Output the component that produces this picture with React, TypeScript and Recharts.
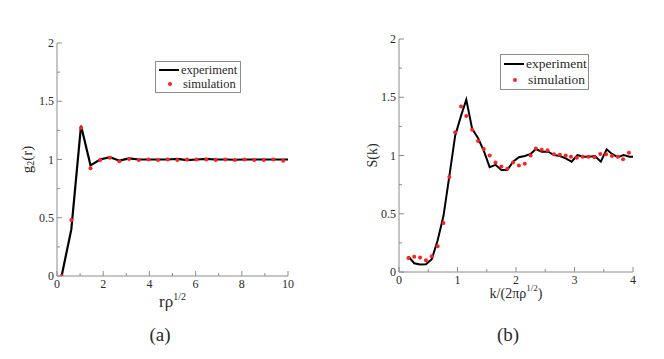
import { ComposedChart, Legend, Line, Scatter, XAxis, YAxis } from 'recharts';

const FONT = '"Liberation Serif", "Times New Roman", Tinos, "DejaVu Serif", "Noto Serif", serif';
const FRAME = '#8c8c8c';
const TEXT = '#2a2a2a';
const RED = '#ff2020';

// panel (a): pair correlation g2(r)
const expRA = [0.2, 0.62, 1.04, 1.45, 1.87, 2.29, 2.7, 3.12, 3.54, 3.96, 4.37, 4.79, 5.21, 5.63, 6.04, 6.46, 6.87, 7.29, 7.7, 8.12, 8.54, 8.95, 9.37, 9.79, 10];
const expGA = [0, 0.4, 1.29, 0.95, 1.0, 1.02, 0.99, 1.01, 1.0, 1.0, 1.0, 1.0, 1.005, 0.995, 1.0, 1.005, 1.0, 1.0, 0.998, 1.0, 1.0, 1.0, 1.0, 1.0, 1.0];
const simRA = [0.2, 0.62, 1.04, 1.45, 1.87, 2.29, 2.7, 3.12, 3.54, 3.96, 4.37, 4.79, 5.21, 5.63, 6.04, 6.46, 6.87, 7.29, 7.7, 8.12, 8.54, 8.95, 9.37, 9.79];
const simGA = [0, 0.48, 1.27, 0.925, 0.995, 1.015, 0.985, 1.005, 0.995, 1.0, 0.995, 1.0, 0.995, 1.0, 1.0, 1.0, 0.995, 1.0, 0.995, 1.0, 0.995, 0.995, 1.0, 0.99];
const xTicksA = [0, 1, 2, 3, 4, 5, 6, 7, 8, 9, 10];
const xMajorA = [0, 2, 4, 6, 8, 10];

// panel (b): structure factor S(k)
const expKB = [0.16, 0.26, 0.36, 0.46, 0.56, 0.66, 0.76, 0.86, 0.96, 1.06, 1.15, 1.25, 1.35, 1.45, 1.55, 1.65, 1.75, 1.85, 1.95, 2.05, 2.15, 2.25, 2.34, 2.44, 2.55, 2.65, 2.75, 2.85, 2.95, 3.05, 3.15, 3.25, 3.35, 3.45, 3.55, 3.64, 3.74, 3.84, 3.94, 4.0];
const expSB = [0.135, 0.075, 0.065, 0.066, 0.11, 0.27, 0.48, 0.82, 1.17, 1.34, 1.48, 1.23, 1.15, 1.04, 0.9, 0.92, 0.875, 0.875, 0.947, 0.985, 0.996, 1.013, 1.056, 1.033, 1.033, 1.004, 0.996, 0.976, 0.947, 1.004, 0.99, 0.99, 0.996, 0.947, 1.053, 1.013, 0.985, 1.004, 0.99, 0.99];
const simKB = [0.16, 0.26, 0.36, 0.46, 0.56, 0.66, 0.76, 0.86, 0.96, 1.06, 1.15, 1.25, 1.35, 1.45, 1.55, 1.65, 1.75, 1.85, 1.95, 2.05, 2.15, 2.25, 2.34, 2.44, 2.54, 2.65, 2.75, 2.85, 2.94, 3.04, 3.14, 3.24, 3.34, 3.44, 3.54, 3.64, 3.74, 3.83, 3.93];
const simSB = [0.12, 0.13, 0.125, 0.1, 0.135, 0.22, 0.42, 0.815, 1.2, 1.42, 1.34, 1.22, 1.125, 1.056, 1.0, 0.94, 0.905, 0.887, 0.94, 0.915, 0.93, 1.0, 1.06, 1.05, 1.045, 1.01, 1.007, 1.0, 0.99, 0.98, 0.99, 0.99, 0.985, 1.013, 1.01, 0.996, 0.99, 0.967, 1.024];
const xTicksB = [0, 0.5, 1, 1.5, 2, 2.5, 3, 3.5, 4];
const xMajorB = [0, 1, 2, 3, 4];

const yTicks = [0, 0.25, 0.5, 0.75, 1, 1.25, 1.5, 1.75, 2];
const yMajor = [0, 0.5, 1, 1.5, 2];

const toPoints = (xs: number[], ys: number[]) => xs.map((x, i) => ({ x, y: ys[i] }));

const isMajor = (v: number, majors: number[]) => majors.some((m) => Math.abs(m - v) < 1e-9);
const tickLen = (major: boolean) => (major ? 5 : 3);

function bottomTick(majors: number[]) {
  return (props: any) => {
    const { x, y, payload } = props;
    const major = isMajor(payload.value, majors);
    return (
      <g>
        <line x1={x} x2={x} y1={y} y2={y - tickLen(major)} stroke={FRAME} />
        {major && (
          <text x={x} y={y + 12} textAnchor="middle" fontSize={12} fontFamily={FONT} fill={TEXT}>
            {payload.value}
          </text>
        )}
      </g>
    );
  };
}

function topTick(majors: number[]) {
  return (props: any) => {
    const { x, y, payload } = props;
    return <line x1={x} x2={x} y1={y} y2={y + tickLen(isMajor(payload.value, majors))} stroke={FRAME} />;
  };
}

function leftTick(props: any) {
  const { x, y, payload } = props;
  const major = isMajor(payload.value, yMajor);
  return (
    <g>
      <line x1={x} x2={x + tickLen(major)} y1={y} y2={y} stroke={FRAME} />
      {major && (
        <text x={x - 3} y={y + 4} textAnchor="end" fontSize={12} fontFamily={FONT} fill={TEXT}>
          {payload.value}
        </text>
      )}
    </g>
  );
}

function rightTick(props: any) {
  const { x, y, payload } = props;
  return <line x1={x} x2={x - tickLen(isMajor(payload.value, yMajor))} y1={y} y2={y} stroke={FRAME} />;
}

function LegendBox({ fontSize, rowHeight }: { fontSize: number; rowHeight: number }) {
  const row = { display: 'flex', alignItems: 'center', height: rowHeight, whiteSpace: 'nowrap' as const };
  const sample = { width: 22, display: 'flex', justifyContent: 'center', marginRight: 2 };
  return (
    <div
      style={{
        border: `1px solid ${FRAME}`,
        background: '#fff',
        padding: '1px 3px',
        fontFamily: FONT,
        fontSize,
        color: TEXT,
        boxSizing: 'border-box',
      }}
    >
      <div style={row}>
        <span style={sample}>
          <span style={{ width: 20, height: 2, background: '#000' }} />
        </span>
        experiment
      </div>
      <div style={row}>
        <span style={sample}>
          <span style={{ width: 4, height: 4, borderRadius: 2, background: RED }} />
        </span>
        simulation
      </div>
    </div>
  );
}

interface PanelProps {
  width: number;
  margin: { top: number; right: number; bottom: number; left: number };
  domainX: [number, number];
  xTicks: number[];
  xMajor: number[];
  exp: { x: number; y: number }[];
  sim: { x: number; y: number }[];
  legend: { left: number; top: number; width: number; fontSize: number; rowHeight: number };
  xTitle: React.ReactNode;
  xTitleDy: number;
  xTitleSize: number;
  yTitle: React.ReactNode;
  yTitleX: number;
  yTitleSize: number;
  lineWidth: number;
}

function Panel(p: PanelProps) {
  const height = 359;
  return (
    <ComposedChart width={p.width} height={height} margin={p.margin} style={{ fontFamily: FONT }}>
      <XAxis
        xAxisId="bottom"
        dataKey="x"
        type="number"
        domain={p.domainX}
        allowDataOverflow
        ticks={p.xTicks}
        interval={0}
        height={30}
        tickSize={0}
        tickMargin={0}
        tickLine={false}
        axisLine={{ stroke: FRAME }}
        tick={bottomTick(p.xMajor)}
        label={{
          content: (lp: any) => {
            const vb = lp.viewBox;
            return (
              <text
                x={vb.x + vb.width / 2}
                y={vb.y + p.xTitleDy}
                textAnchor="middle"
                fontSize={p.xTitleSize}
                fontFamily={FONT}
                fill={TEXT}
              >
                {p.xTitle}
              </text>
            );
          },
        }}
      />
      <XAxis
        xAxisId="top"
        orientation="top"
        dataKey="x"
        type="number"
        domain={p.domainX}
        allowDataOverflow
        ticks={p.xTicks}
        interval={0}
        height={0}
        tickSize={0}
        tickMargin={0}
        tickLine={false}
        axisLine={{ stroke: FRAME }}
        tick={topTick(p.xMajor)}
      />
      <YAxis
        yAxisId="left"
        dataKey="y"
        type="number"
        domain={[0, 2]}
        allowDataOverflow
        ticks={yTicks}
        interval={0}
        width={45}
        tickSize={0}
        tickMargin={0}
        tickLine={false}
        axisLine={{ stroke: FRAME }}
        tick={leftTick}
        label={{
          content: (lp: any) => {
            const vb = lp.viewBox;
            const cy = vb.y + vb.height / 2;
            return (
              <text
                transform={`translate(${p.yTitleX}, ${cy}) rotate(-90)`}
                textAnchor="middle"
                dominantBaseline="central"
                fontSize={p.yTitleSize}
                fontFamily={FONT}
                fill={TEXT}
              >
                {p.yTitle}
              </text>
            );
          },
        }}
      />
      <YAxis
        yAxisId="right"
        orientation="right"
        dataKey="y"
        type="number"
        domain={[0, 2]}
        allowDataOverflow
        ticks={yTicks}
        interval={0}
        width={0}
        tickSize={0}
        tickMargin={0}
        tickLine={false}
        axisLine={{ stroke: FRAME }}
        tick={rightTick}
      />
      <Line
        xAxisId="bottom"
        yAxisId="left"
        data={p.exp}
        dataKey="y"
        type="linear"
        stroke="#000"
        strokeWidth={p.lineWidth}
        dot={false}
        isAnimationActive={false}
      />
      <Scatter
        xAxisId="bottom"
        yAxisId="left"
        data={p.sim}
        dataKey="y"
        fill={RED}
        shape={(sp: any) => <circle cx={sp.cx} cy={sp.cy} r={2} fill={RED} />}
        isAnimationActive={false}
      />
      <Legend
        layout="horizontal"
        align="center"
        verticalAlign="middle"
        width={p.legend.width}
        wrapperStyle={{ left: p.legend.left, top: p.legend.top, width: p.legend.width }}
        content={() => <LegendBox fontSize={p.legend.fontSize} rowHeight={p.legend.rowHeight} />}
      />
    </ComposedChart>
  );
}

const captionStyle: React.CSSProperties = {
  position: 'absolute',
  top: 324,
  width: 40,
  textAlign: 'center',
  fontFamily: FONT,
  fontSize: 19,
  color: TEXT,
};

export default function App() {
  return (
    <div
      style={{
        position: 'absolute',
        left: 0,
        top: 0,
        width: 664,
        height: 359,
        background: '#fff',
        overflow: 'hidden',
        fontFamily: FONT,
      }}
    >
      <div style={{ position: 'absolute', left: 0, top: 0 }}>
        <Panel
          width={330}
          margin={{ top: 43, right: 42, bottom: 53, left: 12 }}
          domainX={[0, 10]}
          xTicks={xTicksA}
          xMajor={xMajorA}
          exp={toPoints(expRA, expGA)}
          sim={toPoints(simRA, simGA)}
          legend={{ left: 155, top: 61, width: 86, fontSize: 12.5, rowHeight: 14 }}
          xTitle={
            <>
              rρ<tspan dy={-7} fontSize={10}>1/2</tspan>
            </>
          }
          xTitleDy={31}
          xTitleSize={17}
          yTitle={
            <>
              g<tspan dy={3} fontSize={10}>2</tspan>
              <tspan dy={-3}>(r)</tspan>
            </>
          }
          yTitleX={27}
          yTitleSize={15}
          lineWidth={2.2}
        />
      </div>
      <div style={{ position: 'absolute', left: 330, top: 0 }}>
        <Panel
          width={334}
          margin={{ top: 39, right: 31, bottom: 57, left: 24 }}
          domainX={[0, 4]}
          xTicks={xTicksB}
          xMajor={xMajorB}
          exp={toPoints(expKB, expSB)}
          sim={toPoints(simKB, simSB)}
          legend={{ left: 170, top: 54, width: 89, fontSize: 13.5, rowHeight: 16 }}
          xTitle={
            <>
              k/(2πρ<tspan dy={-7} fontSize={9}>1/2</tspan>
              <tspan dy={7}>)</tspan>
            </>
          }
          xTitleDy={26}
          xTitleSize={14}
          yTitle="S(k)"
          yTitleX={42}
          yTitleSize={14}
          lineWidth={2}
        />
      </div>
      <div style={{ ...captionStyle, left: 140 }}>(a)</div>
      <div style={{ ...captionStyle, left: 488 }}>(b)</div>
    </div>
  );
}
